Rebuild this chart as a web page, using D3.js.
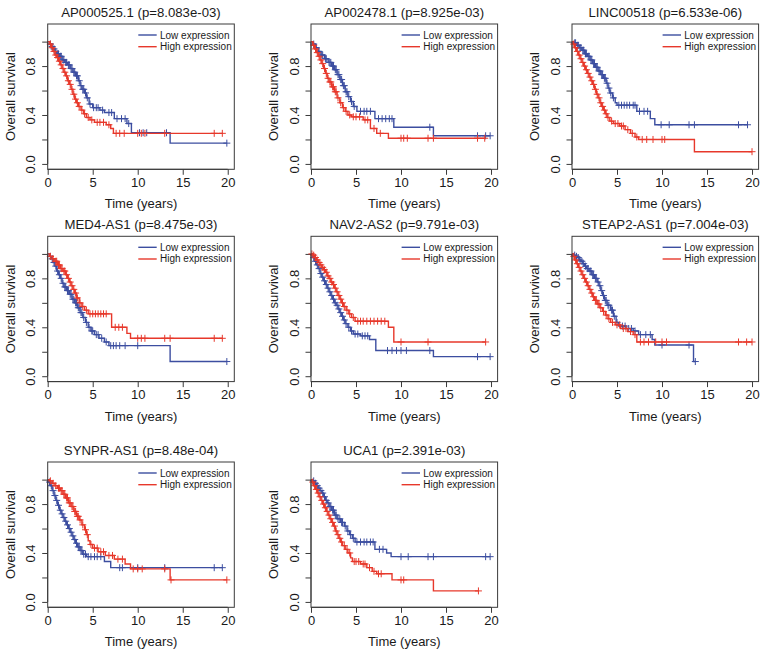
<!DOCTYPE html>
<html>
<head>
<meta charset="utf-8">
<script src="https://cdn.jsdelivr.net/npm/d3@7/dist/d3.min.js"></script>
<style>
  html, body { margin: 0; padding: 0; background: #fff; }
  svg { display: block; font-family: "Liberation Sans", Arial, Helvetica, sans-serif; font-weight: 400; }
  text { font-weight: 400; }
</style>
</head>
<body>
<svg id="chart" width="765" height="651"></svg>
<script>
// ---------------- DATA ----------------
const genes = ["AP000525.1", "AP002478.1", "LINC00518", "MED4-AS1", "NAV2-AS2", "STEAP2-AS1", "SYNPR-AS1", "UCA1"];
const pValues = ["8.083e-03", "8.925e-03", "6.533e-06", "8.475e-03", "9.791e-03", "7.004e-03", "8.48e-04", "2.391e-03"];
const seriesNames = ["Low expression", "High expression"];
const xTicks = [0, 5, 10, 15, 20];
const yTicks = [0, 0.2, 0.4, 0.6, 0.8, 1.0];
const yTickLabels = ["0.0", "", "0.4", "", "0.8", ""];

// Kaplan-Meier steps: [time (years), survival after drop]
const lowSteps = [
  [[0.2,0.98],[0.4,0.96],[0.6,0.94],[0.8,0.92],[1.0,0.90],[1.3,0.88],[1.6,0.85],[1.9,0.83],[2.2,0.81],[2.5,0.78],[2.8,0.75],[3.1,0.72],[3.4,0.68],[3.6,0.64],[3.8,0.61],[4.1,0.58],[4.3,0.54],[4.6,0.49],[5.0,0.46],[5.8,0.44],[6.3,0.42],[7.4,0.37],[8.8,0.33],[9.3,0.255],[13.6,0.17]],
  [[0.2,0.98],[0.5,0.95],[0.8,0.92],[1.1,0.89],[1.5,0.86],[1.9,0.83],[2.3,0.80],[2.6,0.77],[2.9,0.73],[3.2,0.69],[3.5,0.64],[3.8,0.59],[4.1,0.55],[4.4,0.51],[4.7,0.47],[5.1,0.43],[7.1,0.37],[9.2,0.30],[13.6,0.23]],
  [[0.2,0.99],[0.5,0.97],[0.8,0.95],[1.1,0.93],[1.4,0.90],[1.7,0.88],[2.0,0.85],[2.3,0.82],[2.6,0.79],[2.9,0.76],[3.2,0.73],[3.5,0.70],[3.8,0.66],[4.0,0.62],[4.2,0.58],[4.5,0.54],[4.8,0.50],[5.0,0.48],[7.2,0.43],[8.7,0.37],[9.2,0.32]],
  [[0.2,0.98],[0.4,0.96],[0.6,0.93],[0.8,0.90],[1.0,0.86],[1.2,0.83],[1.4,0.80],[1.6,0.76],[1.8,0.73],[2.1,0.70],[2.4,0.67],[2.7,0.63],[3.0,0.60],[3.3,0.56],[3.6,0.52],[3.9,0.48],[4.2,0.44],[4.5,0.40],[4.8,0.37],[5.2,0.34],[5.7,0.31],[6.3,0.28],[6.8,0.25],[13.6,0.12]],
  [[0.2,0.97],[0.4,0.94],[0.6,0.91],[0.8,0.88],[1.0,0.84],[1.2,0.81],[1.4,0.78],[1.6,0.75],[1.8,0.72],[2.0,0.69],[2.2,0.66],[2.4,0.63],[2.6,0.60],[2.8,0.58],[3.0,0.55],[3.2,0.52],[3.4,0.49],[3.6,0.46],[3.8,0.43],[4.1,0.40],[4.4,0.37],[4.7,0.345],[5.5,0.33],[6.5,0.30],[7.2,0.21],[13.6,0.16]],
  [[0.2,0.99],[0.4,0.98],[0.6,0.97],[0.8,0.95],[1.0,0.94],[1.2,0.92],[1.4,0.90],[1.6,0.88],[1.9,0.86],[2.2,0.83],[2.5,0.80],[2.8,0.77],[3.0,0.74],[3.2,0.70],[3.4,0.66],[3.6,0.62],[3.9,0.58],[4.3,0.54],[4.6,0.49],[4.9,0.44],[5.2,0.41],[6.0,0.39],[6.8,0.37],[7.4,0.34],[8.9,0.30],[9.2,0.255],[13.5,0.12]],
  [[0.1,0.98],[0.3,0.95],[0.5,0.91],[0.7,0.87],[0.9,0.83],[1.1,0.79],[1.3,0.75],[1.5,0.72],[1.7,0.69],[1.9,0.66],[2.1,0.63],[2.3,0.60],[2.5,0.57],[2.7,0.54],[2.9,0.51],[3.1,0.48],[3.3,0.45],[3.6,0.42],[3.9,0.39],[4.3,0.37],[6.3,0.33],[7.0,0.28]],
  [[0.2,0.99],[0.4,0.97],[0.6,0.95],[0.8,0.93],[1.0,0.91],[1.2,0.89],[1.4,0.86],[1.6,0.83],[1.8,0.81],[2.0,0.78],[2.3,0.75],[2.6,0.71],[2.9,0.68],[3.3,0.65],[3.7,0.62],[4.0,0.58],[4.3,0.55],[4.6,0.52],[4.9,0.49],[7.1,0.43],[8.4,0.40],[8.9,0.37]]
];
const lowCensor = [
  [0.3,0.5,0.7,0.9,1.1,1.2,1.4,1.5,1.7,1.8,2.0,2.1,2.3,2.4,2.6,2.7,2.9,3.0,3.2,3.3,3.5,3.7,3.9,4.0,4.2,4.4,4.7,5.1,5.4,5.6,6.1,6.8,7.1,7.7,8.2,8.6,9.0,10.2,10.6,11.0,13.2,19.9],
  [0.3,0.6,0.9,1.2,1.3,1.6,1.7,2.0,2.1,2.2,2.4,2.5,2.7,2.8,3.0,3.1,3.3,3.4,3.6,3.7,3.9,4.0,4.2,4.5,4.8,5.5,5.9,6.2,6.6,7.5,7.9,8.3,8.7,9.0,13.2,18.5,19.4,19.9],
  [0.3,0.4,0.6,0.7,0.9,1.0,1.2,1.3,1.5,1.6,1.8,1.9,2.1,2.2,2.4,2.5,2.7,2.8,3.0,3.1,3.3,3.4,3.6,3.7,3.9,4.1,4.3,4.6,5.2,5.5,5.8,6.1,6.4,6.8,7.0,7.5,8.0,8.4,9.9,10.8,13.0,13.6,18.5,19.5],
  [0.3,0.5,0.7,0.9,1.1,1.3,1.5,1.7,1.9,2.0,2.2,2.3,2.5,2.6,2.8,2.9,3.1,3.2,3.4,3.5,3.7,3.8,4.0,4.3,4.6,4.9,5.0,5.4,5.6,6.0,6.5,7.0,7.3,7.6,8.0,8.6,10.0,19.9],
  [0.3,0.5,0.7,0.9,1.1,1.3,1.5,1.7,1.9,2.1,2.3,2.5,2.7,2.9,3.1,3.3,3.5,3.7,3.9,4.2,4.5,4.9,5.2,5.7,6.0,6.3,8.5,9.0,9.5,10.0,10.6,13.2,18.5,19.9],
  [0.3,0.5,0.7,0.9,1.1,1.3,1.5,1.7,1.8,2.0,2.1,2.3,2.4,2.6,2.7,2.9,3.1,3.3,3.5,3.7,3.8,4.0,4.1,4.4,4.5,4.7,5.0,5.6,5.9,6.3,6.6,7.0,7.6,8.2,8.7,10.0,13.0,13.7],
  [0.2,0.4,0.6,0.8,1.0,1.2,1.4,1.6,1.8,2.0,2.2,2.4,2.6,2.8,3.0,3.2,3.4,3.5,3.7,3.8,4.0,4.2,4.5,4.8,5.2,5.5,5.9,8.0,8.3,10.0,13.0,18.5,19.4],
  [0.3,0.5,0.7,0.9,1.1,1.3,1.5,1.7,1.9,2.1,2.2,2.4,2.5,2.7,2.8,3.0,3.2,3.4,3.5,3.8,4.1,4.4,4.7,5.1,5.5,5.9,6.2,6.6,6.9,7.6,8.0,10.0,10.8,13.0,13.6,19.4,19.9]
];
const highSteps = [
  [[0.2,0.98],[0.4,0.95],[0.6,0.92],[0.8,0.89],[1.0,0.87],[1.2,0.84],[1.4,0.81],[1.6,0.78],[1.8,0.75],[2.0,0.72],[2.2,0.68],[2.4,0.65],[2.6,0.61],[2.8,0.57],[3.0,0.53],[3.2,0.50],[3.4,0.47],[3.7,0.44],[4.0,0.41],[4.3,0.38],[4.7,0.36],[5.2,0.34],[6.5,0.32],[7.0,0.29],[7.3,0.25]],
  [[0.2,0.97],[0.4,0.94],[0.6,0.91],[0.8,0.88],[1.0,0.85],[1.2,0.82],[1.4,0.78],[1.6,0.74],[1.8,0.70],[2.0,0.67],[2.3,0.63],[2.6,0.59],[2.9,0.54],[3.2,0.50],[3.5,0.46],[3.8,0.43],[4.1,0.40],[4.5,0.385],[5.8,0.36],[6.6,0.29],[7.3,0.25],[8.6,0.21]],
  [[0.1,0.98],[0.3,0.95],[0.5,0.92],[0.7,0.89],[0.9,0.86],[1.1,0.83],[1.3,0.80],[1.5,0.77],[1.7,0.74],[1.9,0.71],[2.1,0.68],[2.3,0.65],[2.5,0.61],[2.7,0.57],[2.9,0.54],[3.1,0.50],[3.3,0.47],[3.5,0.44],[3.7,0.41],[3.9,0.38],[4.2,0.35],[4.6,0.33],[5.3,0.31],[5.9,0.28],[6.5,0.25],[7.0,0.22],[7.4,0.20],[13.6,0.10]],
  [[0.2,0.98],[0.5,0.96],[0.8,0.94],[1.1,0.91],[1.4,0.88],[1.7,0.86],[2.0,0.83],[2.2,0.80],[2.4,0.77],[2.6,0.74],[2.8,0.71],[3.0,0.68],[3.2,0.64],[3.5,0.60],[3.8,0.57],[4.1,0.54],[4.5,0.51],[7.1,0.40],[8.8,0.35],[9.2,0.31]],
  [[0.2,0.99],[0.4,0.97],[0.6,0.95],[0.8,0.93],[1.0,0.91],[1.2,0.89],[1.4,0.87],[1.6,0.85],[1.8,0.82],[2.0,0.80],[2.2,0.77],[2.4,0.75],[2.6,0.72],[2.8,0.69],[3.0,0.66],[3.2,0.63],[3.4,0.60],[3.6,0.57],[3.9,0.54],[4.2,0.51],[4.5,0.48],[4.9,0.45],[8.6,0.40],[9.2,0.28]],
  [[0.1,0.98],[0.3,0.95],[0.5,0.92],[0.7,0.89],[0.9,0.86],[1.1,0.83],[1.3,0.80],[1.5,0.77],[1.7,0.74],[1.9,0.71],[2.1,0.68],[2.3,0.65],[2.5,0.62],[2.8,0.59],[3.1,0.56],[3.4,0.53],[3.7,0.50],[4.0,0.47],[4.3,0.44],[4.8,0.42],[5.4,0.39],[6.2,0.365],[6.8,0.34],[7.2,0.28]],
  [[0.2,0.99],[0.5,0.97],[0.8,0.95],[1.1,0.93],[1.4,0.91],[1.7,0.88],[2.0,0.85],[2.3,0.81],[2.6,0.78],[2.9,0.74],[3.2,0.70],[3.5,0.67],[3.8,0.63],[4.1,0.59],[4.3,0.55],[4.5,0.50],[4.7,0.47],[5.0,0.44],[5.6,0.41],[6.4,0.38],[7.4,0.35],[8.6,0.31],[9.2,0.27],[13.6,0.18]],
  [[0.1,0.98],[0.3,0.95],[0.5,0.92],[0.7,0.89],[0.9,0.86],[1.1,0.83],[1.3,0.80],[1.5,0.77],[1.7,0.74],[1.9,0.71],[2.1,0.68],[2.3,0.65],[2.5,0.62],[2.7,0.58],[2.9,0.55],[3.1,0.52],[3.3,0.49],[3.5,0.46],[3.8,0.43],[4.1,0.40],[4.4,0.36],[4.6,0.33],[5.5,0.31],[6.2,0.28],[6.8,0.25],[7.3,0.23],[9.0,0.18],[13.6,0.09]]
];
const highCensor = [
  [0.3,0.5,0.7,0.9,1.1,1.3,1.5,1.7,1.9,2.1,2.3,2.5,2.7,2.9,3.1,3.3,3.5,3.8,4.1,4.5,4.9,5.5,5.8,6.2,6.8,7.6,8.0,8.5,10.0,10.4,10.8,13.0,18.5,19.4],
  [0.3,0.5,0.7,0.9,1.1,1.3,1.5,1.7,1.9,2.1,2.2,2.4,2.5,2.7,2.8,3.0,3.3,3.6,3.9,4.3,4.7,5.0,5.4,6.0,6.3,7.0,7.7,10.0,10.3,10.7,13.0,13.6,18.5,19.3],
  [0.2,0.4,0.6,0.8,1.0,1.2,1.4,1.6,1.8,2.0,2.2,2.4,2.6,2.8,3.0,3.2,3.4,3.6,3.8,4.0,4.4,4.8,5.1,5.5,5.7,6.2,6.7,7.2,7.8,8.3,9.0,10.0,10.3,20.0],
  [0.3,0.6,0.9,1.0,1.2,1.3,1.5,1.6,1.8,1.9,2.1,2.3,2.5,2.7,2.9,3.1,3.3,3.6,3.9,4.3,4.7,5.0,5.3,5.6,5.9,6.2,6.5,7.5,7.9,8.3,10.0,10.4,10.8,13.0,13.6,18.5,19.4],
  [0.1,0.3,0.5,0.7,0.9,1.1,1.3,1.5,1.7,1.9,2.1,2.3,2.5,2.7,2.9,3.1,3.3,3.5,3.7,4.0,4.3,4.7,5.2,5.5,5.8,6.2,6.6,7.0,7.4,7.8,8.2,10.0,13.0,19.4],
  [0.2,0.4,0.6,0.8,1.0,1.2,1.4,1.6,1.8,2.0,2.2,2.4,2.6,2.7,2.9,3.0,3.2,3.5,3.8,4.1,4.5,5.0,5.3,5.7,6.0,6.5,7.0,7.6,8.0,8.5,9.3,10.0,10.5,18.5,19.4,20.0],
  [0.3,0.6,0.9,1.2,1.3,1.5,1.6,1.8,1.9,2.1,2.2,2.4,2.5,2.7,2.8,3.0,3.1,3.3,3.4,3.6,3.9,4.2,4.4,4.8,5.2,5.5,5.9,6.2,6.8,7.2,7.8,8.3,9.5,10.0,10.5,13.0,13.7,19.9],
  [0.2,0.4,0.6,0.8,1.0,1.2,1.4,1.6,1.8,2.0,2.2,2.4,2.6,2.8,3.0,3.2,3.4,3.7,4.0,4.3,4.8,5.0,5.3,5.8,6.0,6.5,7.0,7.5,7.8,10.0,10.3,18.6]
];

// ---------------- LAYOUT ----------------
const colLeft = [47.7, 311, 572];
const rowTop = [24, 236.3, 462];
const W = 186.6, H = 145.3;
const colors = ["#3C4EA0", "#E7382B"];
const textColor = "#1a1a1a";
const frameColor = "#3a3a3a";
const fontFam = "Liberation Sans, Arial, sans-serif";

const svg = d3.select("#chart");

function survAt(steps, t) {
  let s = 1;
  for (const [st, sv] of steps) { if (st <= t) s = sv; else break; }
  return s;
}

genes.forEach((gene, i) => {
  const col = i % 3, row = Math.floor(i / 3);
  const g = svg.append("g").attr("transform", `translate(${colLeft[col]},${rowTop[row]})`);
  const x = d3.scaleLinear().domain([0, 20.73]).range([0, W]);
  const y = d3.scaleLinear().domain([-0.044, 1.144]).range([H, 0]);

  // title
  g.append("text")
    .attr("x", W / 2).attr("y", -7.5)
    .attr("text-anchor", "middle")
    .attr("font-size", 13.2).attr("font-weight", 400).attr("fill", textColor)
    .text(`${gene} (p=${pValues[i]})`);

  // x axis
  const xAxis = g.append("g").attr("transform", `translate(0,${H})`)
    .call(d3.axisBottom(x).tickValues(xTicks).tickSize(5.5).tickPadding(3).tickFormat(d3.format("d")));
  xAxis.select(".domain").attr("d", `M${x(xTicks[0])},0H${x(xTicks[xTicks.length-1])}`).attr("stroke", frameColor);
  xAxis.selectAll(".tick line").attr("stroke", frameColor);
  xAxis.selectAll("text").attr("font-size", 13).attr("fill", textColor)
    .attr("font-family", fontFam).attr("dy", "0.71em").attr("y", 8.3);

  // y axis
  const yAxis = g.append("g")
    .call(d3.axisLeft(y).tickValues(yTicks).tickSize(5.5).tickFormat((d, k) => yTickLabels[k]));
  yAxis.select(".domain").attr("d", `M0,${y(0)}V${y(1)}`).attr("stroke", frameColor);
  yAxis.selectAll(".tick line").attr("stroke", frameColor);
  yAxis.selectAll("text")
    .attr("font-size", 13).attr("fill", textColor)
    .attr("font-family", fontFam)
    .attr("x", null).attr("dy", null)
    .attr("text-anchor", "middle")
    .attr("transform", "translate(-12.5,0) rotate(-90)");

  // axis titles
  g.append("text")
    .attr("x", W / 2).attr("y", H + 39)
    .attr("text-anchor", "middle").attr("font-size", 13).attr("font-weight", 400).attr("fill", textColor)
    .text("Time (years)");
  g.append("text")
    .attr("transform", `translate(-32.7,${H / 2}) rotate(-90)`)
    .attr("text-anchor", "middle").attr("font-size", 13).attr("font-weight", 400).attr("fill", textColor)
    .text("Overall survival");

  // curves
  const curveSets = [[lowSteps[i], lowCensor[i]], [highSteps[i], highCensor[i]]];
  const plot = g.append("g");
  curveSets.forEach(([steps, cens], k) => {
    const endT = Math.max(d3.max(cens), steps[steps.length - 1][0]);
    const pts = [[0, 1], ...steps, [endT, steps[steps.length - 1][1]]];
    plot.append("path")
      .attr("d", d3.line().x(d => x(d[0])).y(d => y(d[1])).curve(d3.curveStepAfter)(pts))
      .attr("fill", "none").attr("stroke", colors[k]).attr("stroke-width", 1.4);
    const a = 3.5;
    plot.append("path")
      .attr("d", cens.map(t => {
        const cx = x(t), cy = y(survAt(steps, t));
        return `M${cx - a},${cy}H${cx + a}M${cx},${cy - a}V${cy + a}`;
      }).join(""))
      .attr("fill", "none").attr("stroke", colors[k]).attr("stroke-width", 1);
  });

  // frame
  g.append("rect").attr("x", 0).attr("y", 0).attr("width", W).attr("height", H)
    .attr("fill", "none").attr("stroke", frameColor).attr("stroke-width", 1);

  // legend
  seriesNames.forEach((name, k) => {
    const ly = 11 + k * 11.7;
    g.append("line")
      .attr("x1", W - 96).attr("x2", W - 77.6).attr("y1", ly).attr("y2", ly)
      .attr("stroke", colors[k]).attr("stroke-width", 1.4);
    g.append("text")
      .attr("x", W - 74.3).attr("y", ly).attr("dy", "0.35em")
      .attr("font-size", 10).attr("font-weight", 400).attr("fill", textColor)
      .text(name);
  });
});
</script>
</body>
</html>
